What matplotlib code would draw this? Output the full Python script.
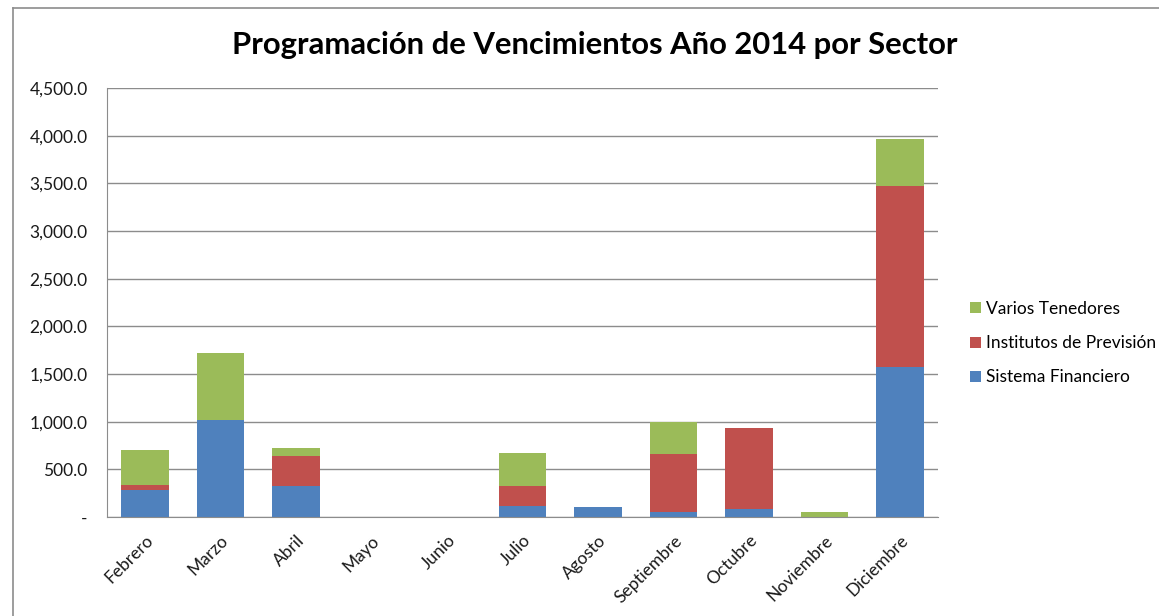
import numpy as np
import matplotlib.pyplot as plt
from matplotlib.ticker import FuncFormatter
from matplotlib.lines import Line2D

plt.rcParams['font.family'] = ['Lato', 'DejaVu Sans']

# datos
meses = ['Febrero', 'Marzo', 'Abril', 'Mayo', 'Junio', 'Julio', 'Agosto',
         'Septiembre', 'Octubre', 'Noviembre', 'Diciembre']
sistema_financiero = [285, 1020, 330, 0, 0, 120, 105, 50, 85, 0, 1575]
institutos_prevision = [50, 0, 310, 0, 0, 200, 0, 615, 845, 0, 1900]
varios_tenedores = [370, 705, 80, 0, 0, 350, 0, 330, 0, 50, 485]

azul = '#4F81BD'
rojo = '#C0504D'
verde = '#9BBB59'

fig = plt.figure(figsize=(11.59, 6.16), dpi=100)
ax = fig.add_axes([107 / 1159, 1 - 517 / 616, (938 - 107) / 1159, (517 - 88) / 616])

x = np.arange(len(meses))
sf = np.array(sistema_financiero)
ip = np.array(institutos_prevision)
vt = np.array(varios_tenedores)
ancho = 0.63
b1 = ax.bar(x, sf, ancho, color=azul, label='Sistema Financiero')
b2 = ax.bar(x, ip, ancho, bottom=sf, color=rojo, label='Institutos de Previsión')
b3 = ax.bar(x, vt, ancho, bottom=sf + ip, color=verde, label='Varios Tenedores')

ax.set_xlim(-0.5, len(meses) - 0.5)
ax.set_ylim(0, 4500)
ax.set_yticks(np.arange(0, 4501, 500))
ax.yaxis.set_major_formatter(FuncFormatter(lambda v, p: '-' if v == 0 else f'{v:,.1f}'))
ax.grid(axis='y', color='#8c8c8c', linewidth=1)
ax.set_axisbelow(True)
for s in ['top', 'right']:
    ax.spines[s].set_visible(False)
ax.spines['left'].set_color('#8c8c8c')
ax.spines['bottom'].set_color('#8c8c8c')
ax.tick_params(axis='both', length=0, labelsize=12.5, colors='#1a1a1a')
ax.tick_params(axis='y', pad=14)
ax.tick_params(axis='x', pad=11)
ax.set_xticks(x)
ax.set_xticklabels(meses, rotation=45, ha='right', rotation_mode='anchor')

fig.suptitle('Programación de Vencimientos Año 2014 por Sector', x=595 / 1159, y=1 - 45 / 616,
             va='center', fontsize=22.3, fontweight='bold')

ax.legend(handles=[b3, b2, b1], loc='center left', bbox_to_anchor=(1.02, 0.405),
          frameon=False, fontsize=12.5, handlelength=0.6, handleheight=0.6,
          handletextpad=0.3, labelspacing=1.05)

# borde del area del grafico
fig.add_artist(Line2D([13 / 1159, 13 / 1159], [0, 1 - 8 / 616], transform=fig.transFigure,
                      color='#8c8c8c', linewidth=1.2))
fig.add_artist(Line2D([13 / 1159, 1], [1 - 8 / 616, 1 - 8 / 616], transform=fig.transFigure,
                      color='#8c8c8c', linewidth=1.2))

fig.savefig('out.png', dpi=100)
